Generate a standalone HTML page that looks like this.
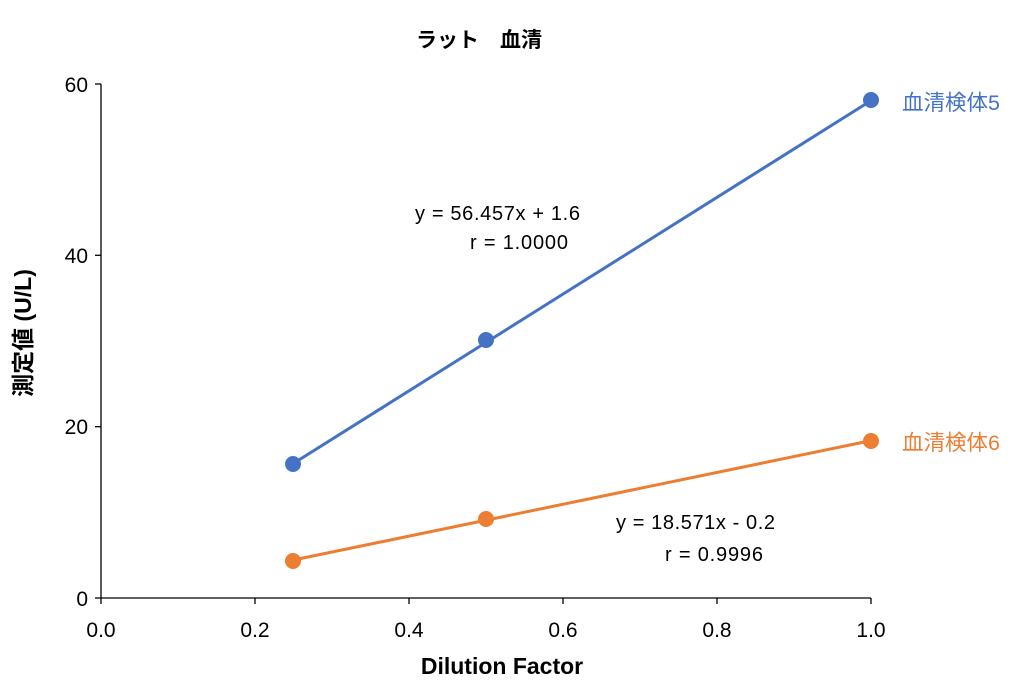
<!DOCTYPE html>
<html><head><meta charset="utf-8"><style>
body{margin:0;background:#fff;}
svg{display:block;font-family:"Liberation Sans","Noto Sans CJK JP",sans-serif;}
</style></head><body>
<svg width="1020" height="688" viewBox="0 0 1020 688" xmlns="http://www.w3.org/2000/svg">
<rect width="1020" height="688" fill="#fff"/>
<text x="479" y="47" font-size="21" font-weight="bold" text-anchor="middle" fill="#000">ラット　血清</text>
<g stroke="#000" stroke-width="1.3">
<line x1="101" y1="84" x2="101" y2="598"/>
<line x1="101" y1="598" x2="871" y2="598"/>
<line x1="95" y1="84" x2="101" y2="84"/>
<line x1="95" y1="255.3" x2="101" y2="255.3"/>
<line x1="95" y1="426.7" x2="101" y2="426.7"/>
<line x1="95" y1="598" x2="101" y2="598"/>
<line x1="101" y1="598" x2="101" y2="604"/>
<line x1="255" y1="598" x2="255" y2="604"/>
<line x1="409" y1="598" x2="409" y2="604"/>
<line x1="563" y1="598" x2="563" y2="604"/>
<line x1="717" y1="598" x2="717" y2="604"/>
<line x1="871" y1="598" x2="871" y2="604"/>
</g>
<g font-size="21" fill="#000" text-anchor="end">
<text x="88" y="92">60</text><text x="88" y="263">40</text><text x="88" y="434">20</text><text x="88" y="606">0</text>
</g>
<g font-size="21" fill="#000" text-anchor="middle">
<text x="101" y="637">0.0</text><text x="255" y="637">0.2</text><text x="409" y="637">0.4</text><text x="563" y="637">0.6</text><text x="717" y="637">0.8</text><text x="871" y="637">1.0</text>
</g>
<text x="502" y="674" font-size="23" font-weight="bold" text-anchor="middle">Dilution Factor</text>
<text transform="translate(31,333) rotate(-90)" font-size="23" font-weight="bold" text-anchor="middle">測定値 (U/L)</text>
<line x1="293.5" y1="463.4" x2="871" y2="100.6" stroke="#4472C4" stroke-width="3"/>
<line x1="293.5" y1="560" x2="871" y2="440.6" stroke="#ED7D31" stroke-width="3"/>
<g fill="#4472C4"><circle cx="293" cy="464" r="8"/><circle cx="486" cy="340" r="8"/><circle cx="871" cy="100" r="8"/></g>
<g fill="#ED7D31"><circle cx="293" cy="561" r="8"/><circle cx="486" cy="519" r="8"/><circle cx="871" cy="441" r="8"/></g>
<text x="902" y="110" font-size="21.5" fill="#4472C4">血清検体5</text>
<text x="902" y="450" font-size="21.5" fill="#ED7D31">血清検体6</text>
<g font-size="20" fill="#000">
<text x="415" y="220" textLength="165">y = 56.457x + 1.6</text>
<text x="470" y="249" textLength="98">r = 1.0000</text>
<text x="616" y="529" textLength="159">y = 18.571x - 0.2</text>
<text x="665" y="561" textLength="98">r = 0.9996</text>
</g>
</svg>
</body></html>
